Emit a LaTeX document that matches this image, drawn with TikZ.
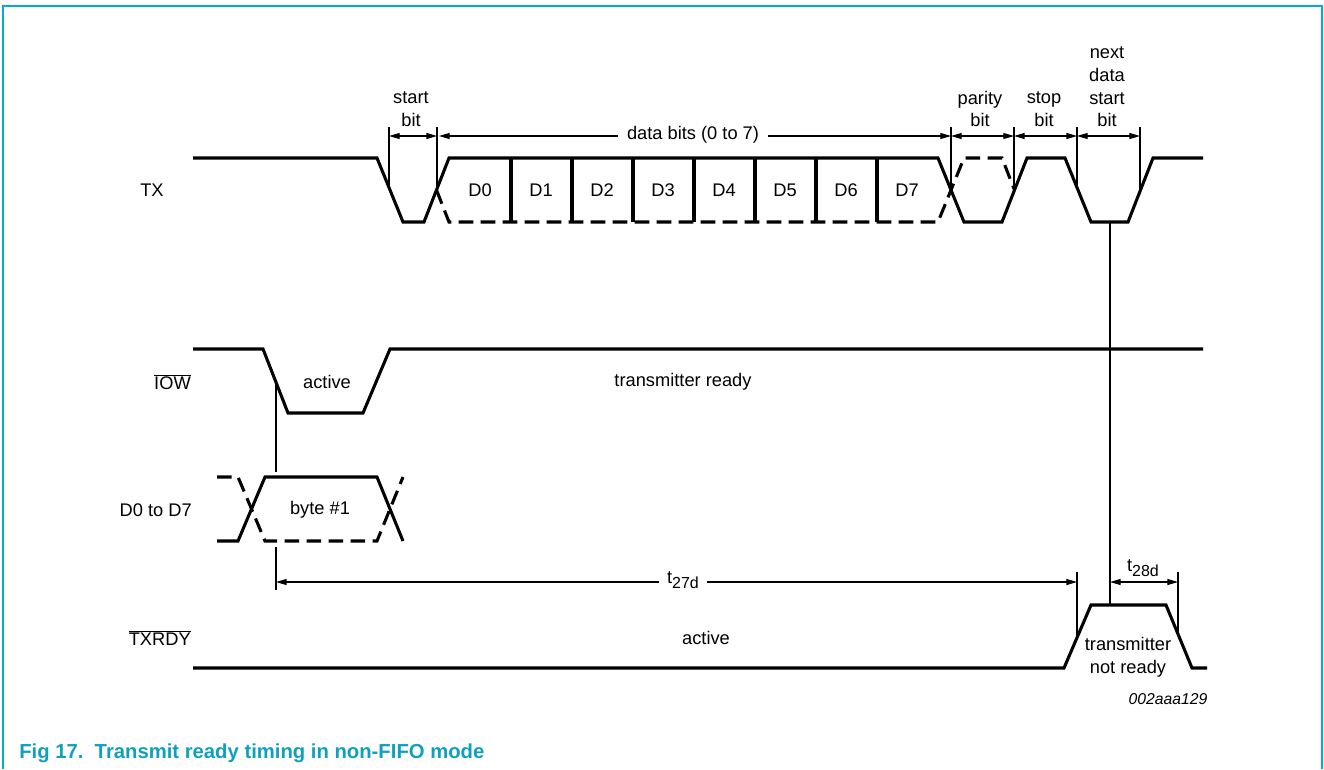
\documentclass[tikz,border=0pt]{standalone}
\usepackage{fontspec}
\setmainfont{Liberation Sans}
\usetikzlibrary{arrows.meta}
\definecolor{framecyan}{RGB}{0,175,205}
\definecolor{capcyan}{RGB}{16,160,190}
\begin{document}
\begin{tikzpicture}[x=0.75pt,y=-0.75pt,
  wave/.style={line width=2.3pt, line join=miter},
  dwave/.style={wave, dash pattern=on 11pt off 5.5pt},
  dimline/.style={line width=0.8pt},
  dimarrow/.style={line width=0.8pt, {Triangle[length=8pt,width=4.5pt]}-{Triangle[length=8pt,width=4.5pt]}},
  lbl/.style={font=\fontsize{13.7}{17}\selectfont, inner sep=0pt, align=center},
  sig/.style={font=\fontsize{13.7}{17}\selectfont, inner sep=0pt},
]
\useasboundingbox (0,0) rectangle (1324,769);
\draw[framecyan, line width=1.6pt] (3,769) -- (3,6) -- (1322,6) -- (1322,769);

% ---------- signal names ----------
\node[sig, anchor=west] (nTX) at (140,190) {TX};
\node[sig, anchor=east] (nIOW) at (191,382) {$\overline{\mbox{IOW}}$};
\node[sig, anchor=east] (nD) at (192,510) {D0 to D7};
\node[sig, anchor=east] (nRDY) at (191,638) {$\overline{\mbox{TXRDY}}$};

% ---------- TX ----------
\draw[wave] (193,158) -- (377,158) -- (403,222) -- (424,222) -- (449,158) -- (938,158)
  -- (964,222) -- (1002,222) -- (1027,158) -- (1065,158) -- (1091,222) -- (1128,222)
  -- (1153,158) -- (1203,158);
\draw[dwave] (436.5,190) -- (449,222) -- (938,222) -- (964,158) -- (1002,158) -- (1014.5,190);
\foreach \x in {511,572,633,694,755,816,877} \draw[wave] (\x,158) -- (\x,222);
\foreach \t/\x in {D0/480,D1/541,D2/602,D3/663,D4/724,D5/785,D6/846,D7/907}
  \node[lbl] (bit\t) at (\x,190) {\t};

% dimension lines on TX
\coordinate (a1) at (389,136);
\coordinate (a2) at (437,136);
\coordinate (a3) at (951,136);
\coordinate (a4) at (1014,136);
\coordinate (a5) at (1077,136);
\coordinate (a6) at (1140,136);
\draw[dimline] (389,127) -- (389,187);
\draw[dimline] (437,127) -- (437,190);
\draw[dimline] (951,127) -- (951,190);
\draw[dimline] (1014,127) -- (1014,190);
\draw[dimline] (1077,127) -- (1077,188);
\draw[dimline] (1140,127) -- (1140,192);
\draw[dimarrow] (a1) -- (a2);
\draw[dimarrow] ([xshift=1.5pt]a2) -- (a3);
\draw[dimarrow] (a3) -- (a4);
\draw[dimarrow] (a4) -- (a5);
\draw[dimarrow] (a5) -- (a6);
\node[lbl, fill=white, inner xsep=7pt] (ldata) at (693,135) {data bits (0 to 7)};
\node[lbl] (lstart) at (411,109) {start\\bit};
\node[lbl] (lpar) at (980,109) {parity\\bit};
\node[lbl] (lstop) at (1044,109) {stop\\bit};
\node[lbl] (lnext) at (1107,87) {next\\data\\start\\bit};

% ---------- IOW ----------
\draw[wave] (193,349) -- (263,349) -- (288,413) -- (363,413) -- (390,349) -- (1203,349);
\node[lbl] (lact1) at (327,382) {active};
\node[lbl] (lready) at (683,382) {transmitter ready};

% ---------- D0 to D7 ----------
\draw[wave] (217,541) -- (238,541) -- (265,477) -- (377,477) -- (403,541);
\draw[dwave] (217,477) -- (238,477) -- (265,541) -- (377,541) -- (403,477);
\node[lbl] (lbyte) at (320,510) {byte \#1};

% ---------- TXRDY ----------
\draw[wave] (193,668) -- (1064,668) -- (1091,605) -- (1166,605) -- (1192,668) -- (1207,668);
\node[lbl] (lact2) at (706,638) {active};
\node[lbl] (lnr) at (1128,657) {transmitter\\not ready};

% ---------- timing references ----------
\draw[dimline] (276,382) -- (276,472);
\draw[dimline] (276,547) -- (276,590);
\draw[dimline] (1110,222) -- (1110,605);
\draw[dimline] (1077,572) -- (1077,637);
\draw[dimline] (1178,572) -- (1178,634);
\coordinate (t1) at (276,582);
\coordinate (t2) at (1077,582);
\coordinate (t3) at (1110,582);
\coordinate (t4) at (1178,582);
\draw[dimarrow] (t1) -- (t2);
\draw[dimarrow] (t3) -- (t4);
\node[lbl, fill=white, inner xsep=6pt] (l27) at (683,580) {t\raisebox{-4pt}{\fontsize{12}{13}\selectfont 27d}};
\node[lbl] (l28) at (1143,568) {t\raisebox{-4pt}{\fontsize{12}{13}\selectfont 28d}};

\node[font=\fontsize{11.8}{14}\selectfont\itshape, inner sep=0pt] (code) at (1168,699) {002aaa129};

% ---------- caption ----------
\node[anchor=base west, inner sep=0pt, text=capcyan, font=\fontsize{15.2}{18}\selectfont\bfseries] (cap) at (19,758) {Fig 17.\ \ Transmit ready timing in non-FIFO mode};
\end{tikzpicture}
\end{document}
